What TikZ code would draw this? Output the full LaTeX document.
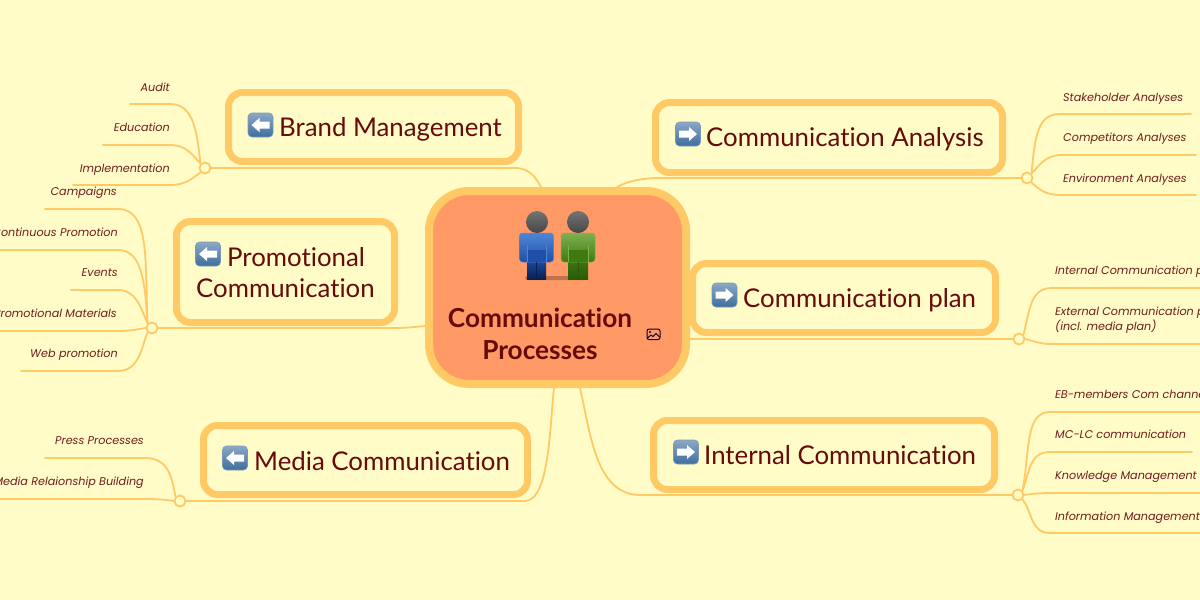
\documentclass[tikz,border=0pt]{standalone}
\usepackage{fontspec}
\setmainfont{Lato}[Ligatures=NoCommon]
\newfontfamily\smallfont{Poppins}
\definecolor{bgc}{HTML}{FFFCC8}
\definecolor{linec}{HTML}{FFC966}
\definecolor{txtc}{HTML}{660A0A}
\definecolor{smallc}{HTML}{701C1C}
\definecolor{corec}{HTML}{FF9966}
\definecolor{btnc}{HTML}{3F6E9E}
\definecolor{bluehi}{HTML}{4F86D6}
\definecolor{bluelo}{HTML}{1F4FA8}
\definecolor{bluedk}{HTML}{0A2050}
\definecolor{greenhi}{HTML}{7FB050}
\definecolor{greenlo}{HTML}{3F7A10}
\definecolor{greendk}{HTML}{2A5A08}
\tikzset{
  x=1pt,y=-1pt,
  topicbox/.style={draw=linec,line width=7pt,fill=bgc,rounded corners=14pt,inner sep=0pt},
  corebox/.style={draw=linec,line width=8pt,fill=corec,rounded corners=40pt,inner sep=0pt},
  hub/.style={circle,draw=linec,line width=1.8pt,fill=bgc,minimum size=11pt,inner sep=0pt},
  conn/.style={draw=linec,line width=1.8pt,line cap=round},
  maintext/.style={text=txtc,font=\fontsize{25.8}{31}\selectfont,anchor=base west,inner sep=0pt},
  coretext/.style={text=txtc,font=\fontsize{26.2}{31}\selectfont\bfseries,anchor=base,inner sep=0pt},
  leafl/.style={text=smallc,font=\smallfont\itshape\fontsize{11.2}{15}\selectfont,anchor=base east,inner sep=0pt},
  leafr/.style={text=smallc,font=\smallfont\itshape\fontsize{11.2}{15}\selectfont,anchor=base west,inner sep=0pt},
  btn/.pic={
    \shade[rounded corners=4pt,top color=btnc!60!white,bottom color=btnc,draw=btnc!70!white,line width=.6pt] (-12.5,-12) rectangle (12.5,12);
    \fill[white] (-9,0) -- (-1,-7) -- (-1,-3.5) -- (9,-3.5) -- (9,3.5) -- (-1,3.5) -- (-1,7) -- cycle;
  },
}
\begin{document}
\begin{tikzpicture}
\useasboundingbox (0,0) rectangle (1200,600);
\fill[bgc] (0,0) rectangle (1200,600);
% hubs
\node[hub] (hbrand) at (205,168) {};
\node[hub] (hpromo) at (152,328) {};
\node[hub] (hmedia) at (180,501) {};
\node[hub] (hca) at (1027,178) {};
\node[hub] (hcp) at (1019,339) {};
\node[hub] (hic) at (1018,495) {};
% leaf ends
\coordinate (l1) at (130,104);\coordinate (l2) at (103,145);\coordinate (l3) at (73,185);
\coordinate (p1) at (45,209);\coordinate (p2) at (-5,250);\coordinate (p3) at (71,290);\coordinate (p4) at (-5,331);\coordinate (p5) at (21,371);
\coordinate (m1) at (45,458);\coordinate (m2) at (-5,499);
\coordinate (a1) at (1191,114);\coordinate (a2) at (1196,155);\coordinate (a3) at (1196,195);
\coordinate (c1) at (1205,288);\coordinate (c2) at (1205,344);
\coordinate (i1) at (1205,412);\coordinate (i2) at (1192,452);\coordinate (i3) at (1205,493);\coordinate (i4) at (1205,533);
% leaf connectors
\draw[conn] (hbrand.north west) .. controls (197,135) and (195,104) .. (170,104) -- (l1);
\draw[conn] (hbrand.north west) .. controls (192,155) and (187,145) .. (170,145) -- (l2);
\draw[conn] (hbrand.south west) .. controls (192,178) and (187,185) .. (170,185) -- (l3);
\draw[conn] (hpromo.north west) .. controls (145,260) and (150,209) .. (118,209) -- (p1);
\draw[conn] (hpromo.north west) .. controls (145,285) and (143,250) .. (118,250) -- (p2);
\draw[conn] (hpromo.north west) .. controls (140,305) and (135,290) .. (118,290) -- (p3);
\draw[conn] (hpromo.west) .. controls (140,329) and (130,331) .. (118,331) -- (p4);
\draw[conn] (hpromo.south west) .. controls (142,345) and (140,371) .. (118,371) -- (p5);
\draw[conn] (hmedia.north west) .. controls (172,480) and (170,458) .. (145,458) -- (m1);
\draw[conn] (hmedia.west) .. controls (168,500) and (160,499) .. (145,499) -- (m2);
\draw[conn] (hca.north east) .. controls (1035,135) and (1038,114) .. (1060,114) -- (a1);
\draw[conn] (hca.north east) .. controls (1040,165) and (1045,155) .. (1062,155) -- (a2);
\draw[conn] (hca.south east) .. controls (1040,190) and (1045,195) .. (1062,195) -- (a3);
\draw[conn] (hcp.north east) .. controls (1030,310) and (1030,288) .. (1052,288) -- (c1);
\draw[conn] (hcp.east) .. controls (1030,340) and (1040,344) .. (1050,344) -- (c2);
\draw[conn] (hic.north east) .. controls (1030,450) and (1025,412) .. (1050,412) -- (i1);
\draw[conn] (hic.north east) .. controls (1030,470) and (1030,452) .. (1050,452) -- (i2);
\draw[conn] (hic.east) .. controls (1030,494) and (1040,493) .. (1050,493) -- (i3);
\draw[conn] (hic.south east) .. controls (1032,510) and (1030,533) .. (1050,533) -- (i4);
% core
\node[corebox,minimum width=257pt,minimum height=193pt] (core) at (557.5,287.5) {};
% branch connectors
\draw[conn] (core.north -| 541,0) .. controls (536,178) and (530,168) .. (515,168) -- (hbrand);
\draw[conn] (core.north -| 617,0) .. controls (630,180) and (645,178) .. (660,178) -- (hca);
\draw[conn] (core.east |- hcp) -- (hcp);
\draw[conn] (core.south -| 580,0) .. controls (590,430) and (595,495) .. (640,495) -- (hic);
\draw[conn] (core.west |- 0,326) .. controls (415,327) and (405,328) .. (395,328) -- (hpromo);
\draw[conn] (core.south -| 554,0) .. controls (550,420) and (550,501) .. (525,501) -- (hmedia);
% topic boxes
\node[topicbox,minimum width=290pt,minimum height=69pt] (brand) at (373.5,127) {};
\node[topicbox,minimum width=347pt,minimum height=70pt] (ca) at (829,137.5) {};
\node[topicbox,minimum width=303pt,minimum height=69pt] (cp) at (844,298) {};
\node[topicbox,minimum width=341pt,minimum height=69pt] (ic) at (824,455) {};
\node[topicbox,minimum width=218pt,minimum height=101pt] (promo) at (285.5,272) {};
\node[topicbox,minimum width=324pt,minimum height=69pt] (media) at (365.5,460) {};
% icons
\pic at (260.5,125) {btn};
\pic[xscale=-1] at (688,134) {btn};
\pic[xscale=-1] at (724.5,295) {btn};
\pic[xscale=-1] at (686,452) {btn};
\pic at (208,254) {btn};
\pic at (235,458) {btn};
% topic texts
\node[maintext] (tbrand) at (279,136) {Brand Management};
\node[maintext] (tca) at (706,146) {Communication Analysis};
\node[maintext] (tcp) at (743,307) {Communication plan};
\node[maintext] (tic) at (704,464) {Internal Communication};
\node[maintext] (tpromo1) at (227,266) {Promotional};
\node[maintext] (tpromo2) at (196,297) {Communication};
\node[maintext] (tmedia) at (254,470) {Media Communication};
\node[coretext] (tcore1) at (540,327) {Communication};
\node[coretext] (tcore2) at (540,359) {Processes};
% people
\fill[black,opacity=.25,rounded corners=1.5pt] (525,276) rectangle (588,280);
\shade[top color=bluelo,bottom color=bluedk] (527,258) rectangle (546,279);
\shade[top color=greenlo,bottom color=greendk] (568,258) rectangle (588,279);
\shade[rounded corners=3pt,top color=bluehi,bottom color=bluelo,draw=bluehi,line width=.5pt] (519.5,233) rectangle (553.5,262);
\shade[rounded corners=3pt,top color=greenhi,bottom color=greenlo,draw=greenhi,line width=.5pt] (561,233) rectangle (595,262);
\fill[bluelo] (527,250) rectangle (546,262);
\fill[greenlo] (568,250) rectangle (588,262);
\draw[bluedk,line width=.8pt] (536.5,262) -- (536.5,279);
\draw[greendk,line width=.8pt] (578,262) -- (578,279);
\draw[bluehi,line width=.7pt] (527,245) -- (527,262) (546,245) -- (546,262);
\draw[greenhi,line width=.7pt] (568,245) -- (568,262) (588,245) -- (588,262);
\shade[top color=black!55,bottom color=black!72] (537,222) circle (11);
\shade[top color=black!55,bottom color=black!72] (578,222) circle (11);
% small image icon
\draw[black!75!blue,line width=1pt,rounded corners=2pt] (647,329) rectangle (660,339.5);
\fill[black!75!blue] (650,332) circle (1.2);
\draw[black!75!blue,line width=1pt,line join=round] (647.5,338) -- (651,335) -- (653,336.5) -- (656,333.5) -- (659.5,337);
% leaf texts
\node[leafl] (la) at (170,91) {Audit};
\node[leafl] (lb) at (170,131) {Education};
\node[leafl] (lc) at (170,172) {Implementation};
\node[leafl] (ld) at (117,195) {Campaigns};
\node[leafl] (le) at (118,236) {Continuous Promotion};
\node[leafl] (lf) at (118,276) {Events};
\node[leafl] (lg) at (117,317) {Promotional Materials};
\node[leafl] (lh) at (118,357) {Web promotion};
\node[leafl] (li) at (144,444) {Press Processes};
\node[leafl] (lj) at (144,485) {Media Relaionship Building};
\node[leafr] (ra) at (1063,101) {Stakeholder Analyses};
\node[leafr] (rb) at (1063,141) {Competitors Analyses};
\node[leafr] (rc) at (1063,182) {Environment Analyses};
\node[leafr] (rd) at (1055,274) {Internal Communication plan};
\node[leafr] (re) at (1055,315) {External Communication plan};
\node[leafr] (rf) at (1055,330) {(incl. media plan)};
\node[leafr] (rg) at (1055,398) {EB-members Com channels};
\node[leafr] (rh) at (1055,438) {MC-LC communication};
\node[leafr] (ri) at (1055,479) {Knowledge Management};
\node[leafr] (rj) at (1055,520) {Information Management};
\end{tikzpicture}
\end{document}
